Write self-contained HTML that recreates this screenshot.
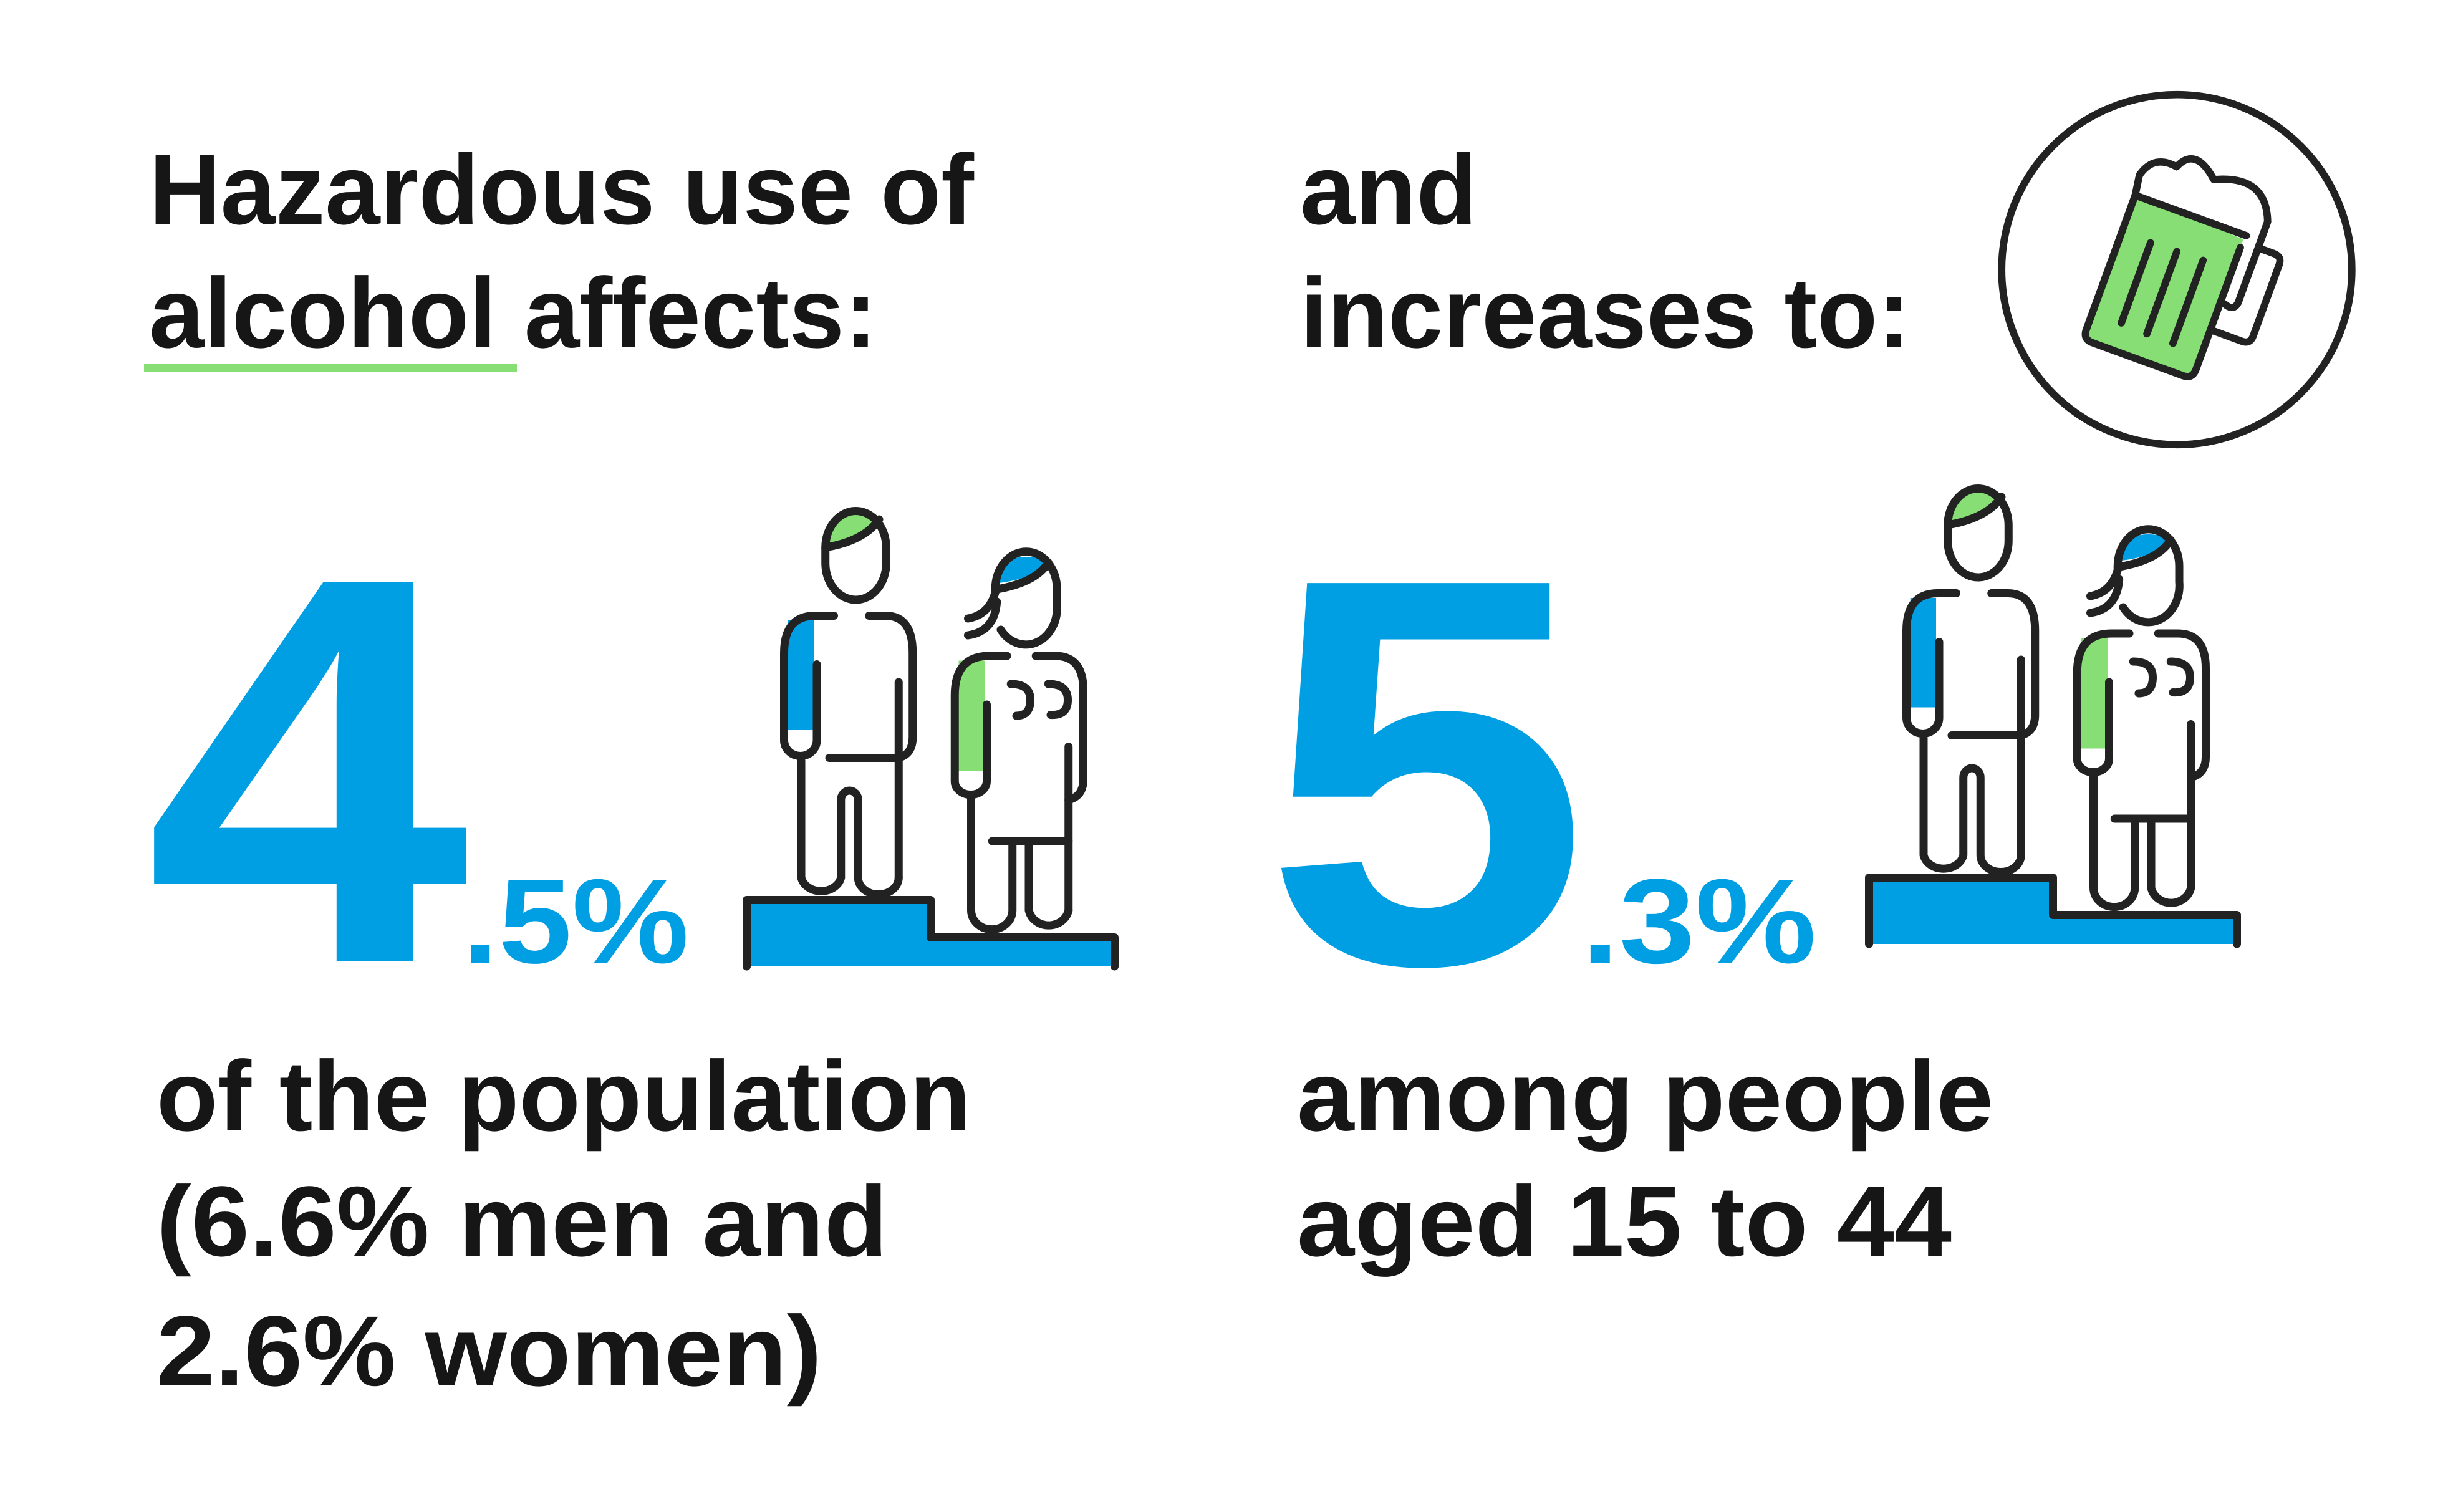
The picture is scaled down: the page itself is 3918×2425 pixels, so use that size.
<!DOCTYPE html>
<html><head><meta charset="utf-8"><style>
html,body{margin:0;padding:0;background:#fff;}
svg{display:block;}
text{font-family:"Liberation Sans",sans-serif;font-weight:bold;fill:#161616;}
</style></head><body>
<svg width="3918" height="2425" viewBox="0 0 3918 2425" xmlns="http://www.w3.org/2000/svg">
<rect width="3918" height="2425" fill="#fff"/>
<text x="239" y="359" font-size="160" textLength="1323" lengthAdjust="spacingAndGlyphs">Hazardous use of</text>
<text x="239" y="557" font-size="160" textLength="1168" lengthAdjust="spacingAndGlyphs">alcohol affects:</text>
<rect x="231" y="583" width="598" height="14" fill="#86de74"/>
<text x="2085" y="359" font-size="160" textLength="284" lengthAdjust="spacingAndGlyphs">and</text>
<text x="2085" y="557" font-size="160" textLength="979" lengthAdjust="spacingAndGlyphs">increases to:</text>

<text x="233" y="1542" font-size="885" style="fill:#009fe3" textLength="520" lengthAdjust="spacingAndGlyphs">4</text>
<text x="741" y="1544" font-size="193" style="fill:#009fe3" textLength="364" lengthAdjust="spacingAndGlyphs">.5%</text>
<text x="2026" y="1544" font-size="885" style="fill:#009fe3" textLength="523" lengthAdjust="spacingAndGlyphs">5</text>
<text x="2536" y="1544" font-size="193" style="fill:#009fe3" textLength="377" lengthAdjust="spacingAndGlyphs">.3%</text>

<text x="251" y="1813" font-size="160" textLength="1306" lengthAdjust="spacingAndGlyphs">of the population</text>
<text x="251" y="2014" font-size="160" textLength="1173" lengthAdjust="spacingAndGlyphs">(6.6% men and</text>
<text x="251" y="2222" font-size="160" textLength="1067" lengthAdjust="spacingAndGlyphs">2.6% women)</text>
<text x="2080" y="1813" font-size="160" textLength="1117" lengthAdjust="spacingAndGlyphs">among people</text>
<text x="2080" y="2014" font-size="160" textLength="1050" lengthAdjust="spacingAndGlyphs">aged 15 to 44</text>

<defs>
<g id="grp0" fill="none" stroke="#222" stroke-width="13" stroke-linecap="round" stroke-linejoin="round">
  <path d="M1194,1300 V1229 H1430 V1269 H1666 V1300 Z" fill="#009fe3" stroke="none"/>
  <path vector-effect="non-scaling-stroke" d="M1194,1300 V1229 H1430 V1269 H1666 V1300"/>
  <path d="M1296,852 Q1300,813 1334,813 Q1355,813 1364,822 Q1348,842 1296,852 Z" fill="#86de74" stroke="none"/>
  <rect vector-effect="non-scaling-stroke" x="1295" y="813" width="78" height="95" rx="39"/>
  <path vector-effect="non-scaling-stroke" d="M1295,852 Q1345,845 1364,822"/>
  <rect x="1247" y="930" width="33" height="117" fill="#009fe3" stroke="none"/>
  <path vector-effect="non-scaling-stroke" d="M1284,977 L1284,1058 A21,17 0 0 1 1242,1058 L1242,965 Q1242,925 1282,925 L1306,925"/>
  <path vector-effect="non-scaling-stroke" d="M1351,925 L1372,925 Q1407,925 1407,965 L1407,1055 Q1407,1073 1389,1077"/>
  <path vector-effect="non-scaling-stroke" d="M1389,996 L1389,1205"/>
  <path vector-effect="non-scaling-stroke" d="M1300,1077 L1389,1077"/>
  <path vector-effect="non-scaling-stroke" d="M1264,1080 L1264,1205 A26,18 0 0 0 1315,1205 L1315,1122 A11,10 0 0 1 1337,1122 L1337,1205 A26,18 0 0 0 1389,1205"/>
  <path d="M1518,890 Q1520,862 1552,862 Q1572,862 1580,868 Q1565,885 1518,890 Z" fill="#009fe3" stroke="none"/>
  <path vector-effect="non-scaling-stroke" d="M1513,900 L1513,896 A39,39 0 0 1 1592,896 L1592,913 A40,39 0 0 1 1520,940"/>
  <path vector-effect="non-scaling-stroke" d="M1513,897 Q1565,890 1581,868"/>
  <path vector-effect="non-scaling-stroke" d="M1478,928 Q1505,924 1513,900"/>
  <path vector-effect="non-scaling-stroke" d="M1478,946 Q1512,942 1515,910"/>
  <rect x="1466" y="973" width="34" height="118" fill="#86de74" stroke="none"/>
  <path vector-effect="non-scaling-stroke" d="M1502,1020 L1502,1102 A20,14 0 0 1 1461,1102 L1461,1010 Q1461,968 1505,968 L1528,968"/>
  <path vector-effect="non-scaling-stroke" d="M1565,968 L1590,968 Q1626,968 1626,1005 L1626,1100 Q1626,1118 1607,1122"/>
  <path vector-effect="non-scaling-stroke" d="M1607,1065 L1607,1240"/>
  <path vector-effect="non-scaling-stroke" d="M1533,998 Q1558,998 1558,1015 Q1558,1032 1540,1032"/>
  <path vector-effect="non-scaling-stroke" d="M1581,998 Q1606,998 1606,1015 Q1606,1032 1584,1031"/>
  <path vector-effect="non-scaling-stroke" d="M1509,1166 L1607,1166"/>
  <path vector-effect="non-scaling-stroke" d="M1482,1118 L1482,1240 A26,20 0 0 0 1535,1240 L1535,1166"/>
  <path vector-effect="non-scaling-stroke" d="M1556,1166 L1556,1240 A26,20 0 0 0 1607,1240"/>
</g>
<g id="grp"><g transform="translate(1180,800) scale(1.25,1.5) translate(-1180,-800)"><use href="#grp0"/></g></g>
</defs>
<use href="#grp"/>
<use href="#grp" transform="translate(1800,-36)"/>

<g transform="translate(-12,0) translate(3200,140) scale(1.17) translate(-3200,-140)">
<circle cx="3459" cy="390" r="240" fill="none" stroke="#222" stroke-width="10"/>
<g transform="translate(3402,288) rotate(20)" fill="none" stroke="#222" stroke-width="10" stroke-linecap="round" stroke-linejoin="round">
  <path d="M0,0 L160,6 L160,196 Q160,210 146,210 L14,210 Q0,210 0,196 Z" fill="#86de74" stroke="none"/>
  <path d="M-4,-28 Q5,-62 40,-56 Q55,-92 94,-57 Q160,-88 183,-28 L183,90 Q181,104 166,98"/>
  <path d="M-4,-28 L0,0 L0,196 Q0,210 14,210 L146,210 Q160,210 160,196 L160,18"/>
  <path d="M0,0 L162,0"/>
  <path d="M186,10 L206,10 Q218,10 218,22 L218,126 Q218,138 206,138 L162,138"/>
  <path d="M42,54 L42,171"/>
  <path d="M80,53 L80,173"/>
  <path d="M118,52 L118,173"/>
</g>
</g>
</svg>
</body></html>
